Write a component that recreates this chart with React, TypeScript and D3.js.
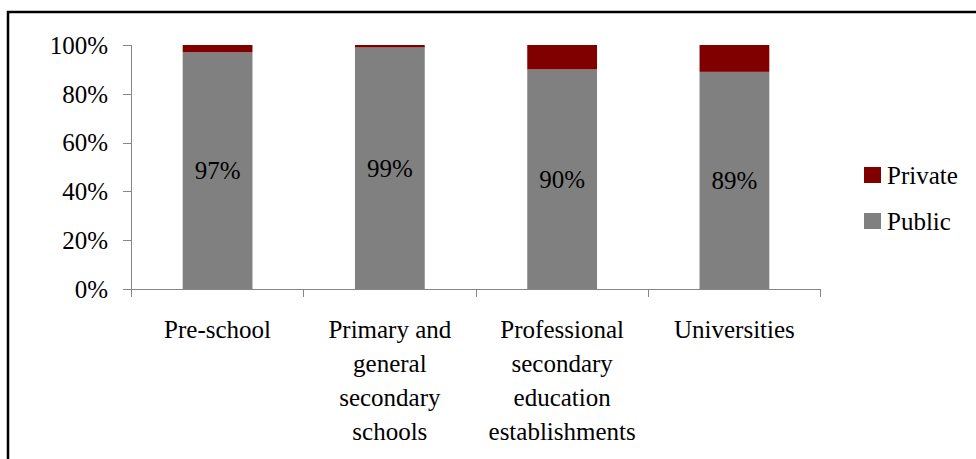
import * as d3 from 'd3';
import * as React from 'react';

const { useRef, useEffect } = React;

const width = 976;
const height = 459;
const margin = { top: 45, right: 155, bottom: 170, left: 131 };

const categories = ['Pre-school', 'Primary and general secondary schools', 'Professional secondary education establishments', 'Universities'];
const categoryLines = [
  ['Pre-school'],
  ['Primary and', 'general', 'secondary', 'schools'],
  ['Professional', 'secondary', 'education', 'establishments'],
  ['Universities'],
];
const publicShare = [97, 99, 90, 89];
const privateShare = [3, 1, 10, 11];
const seriesNames = ['Public', 'Private'];
const colors = ['#808080', '#800000'];
const yTicks = [0, 20, 40, 60, 80, 100];

const font = 'Liberation Serif';

export default () => {
  const rootRef = useRef<SVGSVGElement>(null);

  useEffect(() => {
    const svgEl = rootRef.current;
    if (!svgEl) return;
    const svg = d3.select(svgEl);
    svg.selectAll('*').remove();

    const data = categories.map((c, i) => ({ cat: c, Public: publicShare[i], Private: privateShare[i] }));
    const stack = d3.stack<any>().keys(seriesNames)(data);

    const x = d3
      .scaleBand()
      .domain(categories)
      .range([margin.left, width - margin.right])
      .paddingInner(0.595)
      .paddingOuter(0.3);

    const y = d3
      .scaleLinear()
      .domain([0, 100])
      .range([height - margin.bottom, margin.top]);

    const color = d3.scaleOrdinal<string>().domain(seriesNames).range(colors);

    // frame (only top and left edges are visible)
    svg
      .append('path')
      .attr('d', `M8,${height + 5}V12H${width + 5}`)
      .attr('fill', 'none')
      .attr('stroke', '#000')
      .attr('stroke-width', 2.5);

    // bars
    svg
      .append('g')
      .selectAll('g')
      .data(stack)
      .join('g')
      .attr('fill', d => color(d.key))
      .selectAll('rect')
      .data(d => d)
      .join('rect')
      .attr('x', d => x(d.data.cat) as number)
      .attr('y', d => y(d[1]))
      .attr('width', x.bandwidth())
      .attr('height', d => y(d[0]) - y(d[1]));

    const textLayer = svg.append('g').attr('font-family', font).attr('font-size', 25);

    // y axis
    const yAxis = textLayer.append('g').attr('transform', `translate(${margin.left},0)`);
    yAxis
      .append('line')
      .attr('x1', 0.5)
      .attr('x2', 0.5)
      .attr('y1', y(100))
      .attr('y2', y(0))
      .attr('stroke', '#868686');
    yAxis
      .selectAll('line.tick')
      .data(yTicks)
      .join('line')
      .attr('class', 'tick')
      .attr('x1', -8)
      .attr('x2', 0)
      .attr('y1', d => Math.round(y(d)) + 0.5)
      .attr('y2', d => Math.round(y(d)) + 0.5)
      .attr('stroke', '#868686');
    yAxis
      .selectAll('text')
      .data(yTicks)
      .join('text')
      .attr('x', -23)
      .attr('y', d => y(d))
      .attr('dy', '0.35em')
      .attr('text-anchor', 'end')
      .text(d => `${d}%`);

    // x axis
    const xAxis = textLayer.append('g').attr('transform', `translate(0,${y(0)})`);
    const [r0, r1] = x.range();
    xAxis
      .append('line')
      .attr('x1', r0)
      .attr('x2', r1)
      .attr('y1', 0.5)
      .attr('y2', 0.5)
      .attr('stroke', '#868686');
    const step = x.step();
    const edges = d3.range(categories.length + 1).map(i => r0 + i * step);
    xAxis
      .selectAll('line.tick')
      .data(edges)
      .join('line')
      .attr('class', 'tick')
      .attr('x1', d => Math.round(d) + 0.5)
      .attr('x2', d => Math.round(d) + 0.5)
      .attr('y1', 0)
      .attr('y2', 8)
      .attr('stroke', '#868686');
    xAxis
      .selectAll('text')
      .data(categories)
      .join('text')
      .attr('text-anchor', 'middle')
      .each(function (d, i) {
        d3.select(this)
          .selectAll('tspan')
          .data(categoryLines[i])
          .join('tspan')
          .attr('x', (x(d) as number) + x.bandwidth() / 2)
          .attr('y', (_, j) => 49 + j * 34)
          .text(t => t);
      });

    // data labels on public segment
    textLayer
      .append('g')
      .selectAll('text')
      .data(stack[0])
      .join('text')
      .attr('x', d => (x(d.data.cat) as number) + x.bandwidth() / 2)
      .attr('y', d => (y(d[0]) + y(d[1])) / 2)
      .attr('dy', '0.35em')
      .attr('text-anchor', 'middle')
      .text(d => `${d.data.Public}%`);

    // legend
    const legend = textLayer
      .append('g')
      .selectAll('g')
      .data(seriesNames.slice().reverse())
      .join('g')
      .attr('transform', (d, i) => `translate(864,${167 + i * 46})`);
    legend
      .append('rect')
      .attr('width', 17)
      .attr('height', 16)
      .attr('fill', d => color(d));
    legend
      .append('text')
      .attr('x', 23)
      .attr('y', 8)
      .attr('dy', '0.35em')
      .text(d => d);
  }, []);

  return (
    <svg
      ref={rootRef}
      width={width}
      height={height}
      style={{ position: 'fixed', top: 0, left: 0, background: '#fff' }}
    />
  );
};
